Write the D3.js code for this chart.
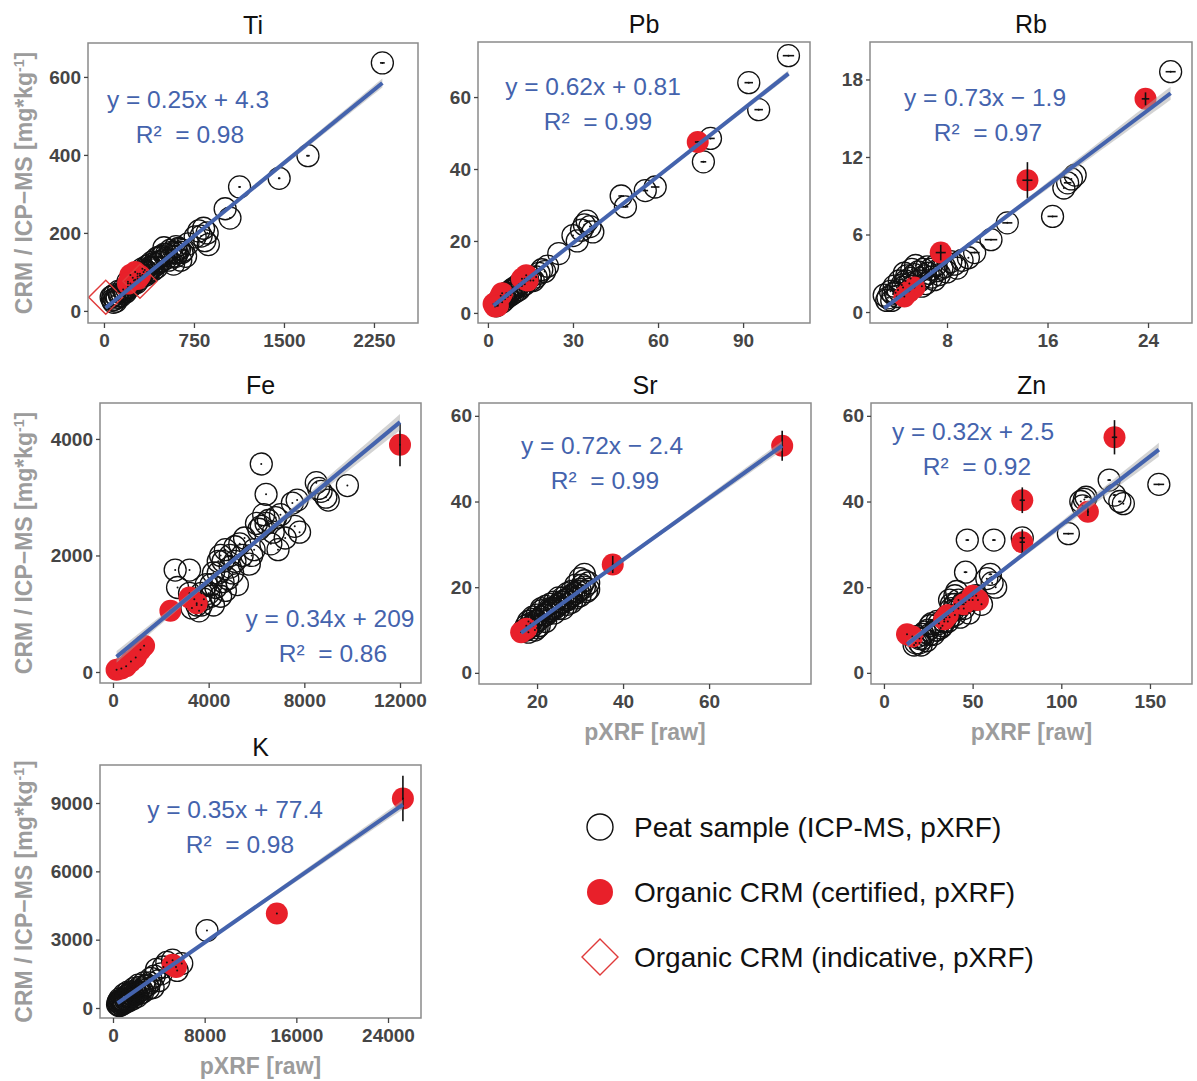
<!DOCTYPE html>
<html>
<head>
<meta charset="utf-8">
<script src="https://cdn.jsdelivr.net/npm/d3@7/dist/d3.min.js"></script>
<style>
  html, body { margin: 0; padding: 0; background: #fff; }
  svg { display: block; font-family: "Liberation Sans", Arial, sans-serif; }
</style>
</head>
<body>
<svg id="chart" width="1197" height="1081"></svg>
<script>
// ---------------- DATA ----------------
const elements = ["Ti", "Pb", "Rb", "Fe", "Sr", "Zn", "K"];
const slopes = [0.25, 0.62, 0.73, 0.34, 0.72, 0.32, 0.35];
const intercepts = [4.3, 0.81, -1.9, 209, -2.4, 2.5, 77.4];
const r2Values = [0.98, 0.99, 0.97, 0.86, 0.99, 0.92, 0.98];

const xTickValues = [[0, 750, 1500, 2250], [0, 30, 60, 90], [8, 16, 24], [0, 4000, 8000, 12000], [20, 40, 60], [0, 50, 100, 150], [0, 8000, 16000, 24000]];
const yTickValues = [[0, 200, 400, 600], [0, 20, 40, 60], [0, 6, 12, 18], [0, 2000, 4000], [0, 20, 40, 60], [0, 20, 40, 60], [0, 3000, 6000, 9000]];

const legendLabels = ["Peat sample (ICP-MS, pXRF)", "Organic CRM (certified, pXRF)", "Organic CRM (indicative, pXRF)"];

// points: [pXRF, CRM/ICP-MS, xErr, yErr]
const tiPeat = [[2320,636,20,0],[1700,398,15,0],[1460,340,10,0],[1130,318,10,0],[1010,262,0,0],[1050,238,0,0],[790,205],[830,212],[810,192],[860,200],[840,180],[870,170],[760,190],[700,172],[650,150],[620,160],[600,140],[560,150],[540,130],[500,162],[480,140],[460,125],[430,118],[410,105],[390,112],[370,98],[350,92],[330,100],[310,88],[290,80],[270,72],[250,78],[230,66],[210,60],[190,55],[170,50],[150,45],[130,40],[110,35],[90,30],[70,28],[60,35],[80,22],[640,130],[680,140],[580,120],[520,145],[440,135],[400,125],[360,115],[320,108],[280,95],[240,85],[200,75],[600,165],
  [120,50],[140,38],[160,55],[180,48],[200,62],[220,70],[240,68],[260,80],[280,88],[300,95],[320,92],[340,105],[360,100],[380,118],[400,110],[420,122],[440,112],[460,138],[480,128],[500,145],[520,135],[550,155],[570,140],[590,150],[610,148],[630,158],[660,155],[100,25],[75,38],[90,42]];
const tiCert = [[220,92],[260,100],[280,82],[300,90],[200,70]];
const tiIndic = [[15,35],[300,76]];

const pbPeat = [[106,71.5,2,0],[92,64,1.5,0],[95.5,56.5,1.5,0],[78.5,48.5,1.5,0],[76,42,1,0],[59,35,1.5,0],[55.5,34,1,0],[47,32.5,1,0],[48.5,29.5,1,0],[35,25.5,1,0],[34,24.5],[36,24],[33,23],[37,22.5],[30,21.5],[31.5,20],[25,16.5],[21,13],[18,11],[20,11.5],[15,10],[16,9],[11,8],[10,7],[9,6.5],[8,6],[7,5],[6,4.5],[5,4],[4,3],[3.5,2.5],[12,8.5],[13,9.5],[6.5,5.5],[4.5,3.5],
  [3,2],[4,3.5],[5,3],[5.5,4.5],[6,3.8],[7,4.5],[7.5,5.5],[8,5],[8.5,6.5],[9,5.5],[9.5,7],[10,6],[10.5,7.5],[11,6.5],[12,7.5],[13,8],[14,9.5],[15,9],[17,10],[19,12]];
const pbCert = [[74,47.5,1,0],[2,2.5],[2.5,1.8],[3,3],[4.5,4.8],[5,5.5],[12,9.5],[13.5,10.5],[14,9],[3.5,2]];
const pbIndic = [];

const rbPeat = [[25.8,18.6,0.4,0],[16.4,7.4,0.4,0],[17.3,9.6],[17.6,10.0,0.3,0],[17.9,10.3],[18.2,10.6],[12.8,6.9,0.4,0],[11.5,5.6,0.5,0],[10.2,4.6,0.4,0],[9.7,4.2],[9.2,4.0],[8.6,3.7],[8.8,3.4],[3.0,1.3],[3.2,0.9],[3.5,1.6],[3.8,2.0],[4.2,2.4],[4.5,1.9],[4.8,2.8],[5.2,3.3],[5.5,3.6],[5.8,2.4],[6.2,2.8],[6.5,3.0],[6.8,2.7],[7.2,3.2],[7.6,3.4],[8.0,3.1],[4.0,1.2],[5.0,2.2],[6.0,2.0],[7.0,2.5],[4.6,3.0],[3.6,0.9],
  [3.3,1.1],[3.7,1.4],[4.1,1.7],[4.4,2.1],[4.7,2.4],[5.1,2.6],[5.4,2.9],[5.7,3.1],[6.1,3.3],[6.4,3.5],[6.7,3.3],[7.1,3.6],[7.4,2.9],[7.8,3.5],[5.3,2.0],[5.9,2.6],[6.3,2.2],[4.9,1.6],[8.3,3.9],[3.9,1.5]];
const rbCert = [[23.8,16.5,0.3,0.5],[14.4,10.2,0.4,1.4],[7.5,4.6,0.4,0.6],[5.0,1.6],[5.4,1.9],[4.6,1.2]];
const rbIndic = [];

const fePeat = [[6200,3570],[6400,3050],[9800,3200],[8500,3250],[8700,3100],[8900,3000],[9000,2950],[8600,3150],[7500,2900],[7700,2950],[7600,2500],[7800,2400],[7200,2300],[6500,2600],[6300,2700],[6000,2550],[6100,2450],[6600,2200],[6900,2100],[5800,2000],[5700,1850],[5300,2200],[5100,2150],[4900,2000],[4700,2100],[4500,2000],[4600,1900],[4400,1700],[4800,1600],[5000,1700],[5200,1500],[4300,1450],[4500,1300],[4000,1350],[3800,1250],[3500,1150],[3600,1050],[3300,1100],[3200,1350],[2600,1750],[3200,1750],[2700,1450],[3900,1500],[4200,1150],[4700,1400],[6200,2500],[6700,2400],[7000,2700],[5500,2300],[5900,2100],[6400,2550],[6800,2650],
  [3400,1250],[3700,1350],[4100,1500],[4200,1700],[4400,1900],[4600,1550],[4900,1800],[5100,1900],[5400,2000],[3700,1150],[4100,1300]];
const feCert = [[12000,3900,0,370],[150,40],[350,60],[550,100],[750,180],[950,250],[1150,380],[1300,450],[2400,1050],[3200,1280],[3500,1180]];
const feIndic = [];

const srPeat = [[18,10.5],[19,11],[20,12],[21,13],[22,13.5],[23,14.5],[24,15],[25,16],[26,16.5],[27,17],[28,18],[29,18.5],[30,19.5],[31,20],[32,21],[31,23],[30,22],[21,14.5],[23,16],[25,17.5],[27,18.5],[22,12],[24,14],[26,15],[28,16.5],[19,12.5],[20,10.5],[18,9.5],[29,20.5],[31.5,19],[17.5,10],
  [17,10],[17.5,11],[18.5,11.5],[19.5,12],[20.5,12.5],[21.5,13.5],[22.5,14],[23.5,15],[24.5,15.5],[25.5,16.5],[26.5,17],[27.5,17.5],[28.5,18.5],[29.5,19],[30.5,20.5],[18,12],[19,13],[20,13.5],[21,15],[22,15.5],[23,15],[24,16.5],[25,15],[26,17.5],[27,16],[28,19],[29,17.5],[30,18],[31,21.5],[32,19.5],[19.5,10],[20.5,11]];
const srCert = [[77,53,0,3.5],[37.6,25.3,0,2],[16.3,9.5],[17.5,10.3]];
const srIndic = [];

const znPeat = [[155,44,3,0],[127,45,1,0],[130,41.5,1,0],[133,40,1,0],[135,39.5],[111,40],[113,40.5],[112,39],[114,41,1,0],[104,32.5,3,0],[47,31,1,0],[62,31,1,0],[46,23.5,1,0],[60,23,1,0],[61,21],[63,20],[78,31.5,1.5,0],[58,22],[40,18],[42,17],[38,16],[45,15],[48,14],[35,13],[30,12],[25,10],[22,9],[20,8],[18,7],[17,6.5],[24,7.5],[28,9],[32,10.5],[36,12],[40,13.5],[44,16],[50,17],[55,16],[52,18],[41,19],[38,15],[27,11.5],[33,11],[19,8.5],
  [20,7],[22,8],[23,9.5],[26,9],[29,10],[31,11.5],[34,12],[37,13],[39,14.5],[42,15],[43,13],[46,16.5],[48,17],[37,17],[40,16],[21,6.5],[26,11],[30,10]];
const znCert = [[130,55,1.5,4],[78,40.3,1.5,3],[78,30.5,1.5,3],[115,37.6,0.5,1],[13,9],[16,8.5],[34,12.5],[36,13.5],[50,18],[53,17],[45,16]];
const znIndic = [];

const kPeat = [[8200,3400],[4700,2000],[5200,2100],[6000,1950],[5600,1650],[4200,1500],[3800,1700],[4000,1200],[3200,1100],[3500,900],[2800,950],[2500,800],[2200,700],[2000,600],[1800,550],[1600,500],[1400,450],[1200,400],[1000,300],[800,250],[600,200],[500,150],[900,200],[1300,300],[1700,400],[2100,500],[2400,650],[3000,1000],[700,350],[1100,500],[1500,600],
  [400,150],[450,250],[550,100],[650,300],[750,150],[850,350],[950,250],[1050,400],[1150,300],[1250,550],[1350,400],[1450,650],[1550,450],[1650,700],[1750,550],[1900,750],[2050,650],[2300,900],[2600,700],[2700,1100],[3100,850],[600,400],[500,300],[1000,600],[1300,700],[1800,850],[2200,1000],[3300,1300],[3600,1400],[4400,1800]];
const kCert = [[25300,9200,0,1000],[14300,4150],[5500,1800],[5200,1900]];
const kIndic = [];

const peatData = [tiPeat, pbPeat, rbPeat, fePeat, srPeat, znPeat, kPeat];
const certData = [tiCert, pbCert, rbCert, feCert, srCert, znCert, kCert];
const indicData = [tiIndic, pbIndic, rbIndic, feIndic, srIndic, znIndic, kIndic];

// ---------------- LAYOUT ----------------
const frames = [
  {l: 88,  r: 418,  t: 43,  b: 323, xd: [-133, 2617],  yd: [-31, 687],   eq: [188, 108], r2: [190, 143], yLab: true,  xLab: false},
  {l: 478, r: 810,  t: 42,  b: 323, xd: [-3.5, 113.6], yd: [-2.8, 75.3], eq: [593, 95],  r2: [598, 130], yLab: false, xLab: false},
  {l: 870, r: 1192, t: 42,  b: 323, xd: [1.87, 27.5],  yd: [-0.85, 20.9],eq: [985, 106], r2: [988, 141], yLab: false, xLab: false},
  {l: 100, r: 421,  t: 403, b: 683, xd: [-543, 12878], yd: [-189, 4617], eq: [330, 627], r2: [333, 662], yLab: true,  xLab: false},
  {l: 479, r: 811,  t: 403, b: 684, xd: [6.5, 83.7],   yd: [-2.6, 63],   eq: [602, 454], r2: [605, 489], yLab: false, xLab: true},
  {l: 871, r: 1192, t: 403, b: 684, xd: [-7.3, 173.7], yd: [-2.6, 63],   eq: [973, 440], r2: [977, 475], yLab: false, xLab: true},
  {l: 100, r: 421,  t: 765, b: 1018,xd: [-1134, 26879],yd: [-439, 10669],eq: [235, 818], r2: [240, 853], yLab: true,  xLab: true}
];

const RED = "#e8202a";
const BLUE = "#4463ad";
const PT_R = 11;

const svg = d3.select("#chart");
svg.append("rect").attr("width", 1197).attr("height", 1081).attr("fill", "#fff");

function fmtIntercept(b) {
  return (b < 0 ? " \u2212 " : " + ") + Math.abs(b);
}

frames.forEach((f, i) => {
  const x = d3.scaleLinear().domain(f.xd).range([f.l, f.r]);
  const y = d3.scaleLinear().domain(f.yd).range([f.b, f.t]);
  const g = svg.append("g");
  const clipId = "clip" + i;
  svg.append("clipPath").attr("id", clipId).append("rect")
    .attr("x", f.l).attr("y", f.t).attr("width", f.r - f.l).attr("height", f.b - f.t);

  g.append("rect").attr("x", f.l).attr("y", f.t).attr("width", f.r - f.l).attr("height", f.b - f.t).attr("fill", "#fff");

  const plot = g.append("g").attr("clip-path", `url(#${clipId})`);
  const peat = peatData[i], cert = certData[i], indic = indicData[i];
  const all = peat.concat(cert, indic);

  // peat circles
  plot.selectAll("circle.peat").data(peat).join("circle")
    .attr("cx", d => x(d[0])).attr("cy", d => y(d[1])).attr("r", PT_R)
    .attr("fill", "none").attr("stroke", "#111").attr("stroke-width", 1.3);
  // certified CRM
  plot.selectAll("circle.cert").data(cert).join("circle")
    .attr("cx", d => x(d[0])).attr("cy", d => y(d[1])).attr("r", PT_R)
    .attr("fill", RED);
  // indicative CRM diamonds
  const ds = 17;
  plot.selectAll("path.indic").data(indic).join("path")
    .attr("d", d => {
      const cx = x(d[0]), cy = y(d[1]);
      return `M${cx},${cy - ds}L${cx + ds},${cy}L${cx},${cy + ds}L${cx - ds},${cy}Z`;
    })
    .attr("fill", "none").attr("stroke", "#e03a3a").attr("stroke-width", 1.4);

  // error bars + centre dot
  all.forEach(d => {
    const ex = d[2] || 0, ey = d[3] || 0;
    const cx = x(d[0]), cy = y(d[1]);
    plot.append("circle").attr("cx", cx).attr("cy", cy).attr("r", 1).attr("fill", "#111");
    if (ex > 0) plot.append("line").attr("x1", x(d[0] - ex)).attr("x2", x(d[0] + ex)).attr("y1", cy).attr("y2", cy)
      .attr("stroke", "#111").attr("stroke-width", 1.6);
    if (ey > 0) plot.append("line").attr("x1", cx).attr("x2", cx).attr("y1", y(d[1] - ey)).attr("y2", y(d[1] + ey))
      .attr("stroke", "#111").attr("stroke-width", 1.6);
  });

  // regression line with (narrow) confidence band
  const a = slopes[i], b = intercepts[i];
  const xs = all.map(d => d[0]);
  const n = xs.length, xbar = d3.mean(xs);
  const sxx = d3.sum(xs, v => (v - xbar) ** 2);
  const s = Math.sqrt(d3.sum(all, d => (d[1] - (a * d[0] + b)) ** 2) / (n - 2));
  const [x0, x1] = d3.extent(xs);
  const grid = d3.range(0, 51).map(k => x0 + (x1 - x0) * k / 50);
  const band = grid.map(v => {
    const h = 1.2 * s * Math.sqrt(1 / n + (v - xbar) ** 2 / sxx);
    return [v, a * v + b - h, a * v + b + h];
  });
  plot.append("path").datum(band)
    .attr("d", d3.area().x(d => x(d[0])).y0(d => y(d[1])).y1(d => y(d[2])))
    .attr("fill", "#a8a8a8").attr("opacity", 0.5);
  plot.append("path").datum([x0, x1])
    .attr("d", d3.line().x(v => x(v)).y(v => y(a * v + b)))
    .attr("stroke", BLUE).attr("stroke-width", 4).attr("fill", "none");

  // border
  g.append("rect").attr("x", f.l).attr("y", f.t).attr("width", f.r - f.l).attr("height", f.b - f.t)
    .attr("fill", "none").attr("stroke", "#8a8a8a").attr("stroke-width", 1.5);

  // axes
  const xAxis = g.append("g").attr("transform", `translate(0,${f.b})`)
    .call(d3.axisBottom(x).tickValues(xTickValues[i]).tickSize(5).tickPadding(6).tickFormat(d3.format("d")));
  const yAxis = g.append("g").attr("transform", `translate(${f.l},0)`)
    .call(d3.axisLeft(y).tickValues(yTickValues[i]).tickSize(4).tickPadding(3).tickFormat(d3.format("d")));
  [xAxis, yAxis].forEach(ax => {
    ax.select(".domain").remove();
    ax.selectAll(".tick line").attr("stroke", "#444").attr("stroke-width", 1.3);
    ax.selectAll(".tick text").attr("fill", "#454545").attr("font-size", 19).attr("font-weight", "bold")
      .attr("font-family", "Liberation Sans, Arial, sans-serif");
  });

  // title
  g.append("text").attr("x", (f.l + f.r) / 2).attr("y", f.t - 9).attr("text-anchor", "middle")
    .attr("font-size", 25).attr("fill", "#111").text(elements[i]);

  // equation labels
  g.append("text").attr("x", f.eq[0]).attr("y", f.eq[1]).attr("text-anchor", "middle")
    .attr("font-size", 24.5).attr("fill", BLUE).text(`y = ${a}x${fmtIntercept(b)}`);
  g.append("text").attr("x", f.r2[0]).attr("y", f.r2[1]).attr("text-anchor", "middle")
    .attr("font-size", 24.5).attr("fill", BLUE).text(`R\u00B2 \u00A0= ${r2Values[i].toFixed(2)}`);

  if (f.yLab) {
    const cy = (f.t + f.b) / 2;
    const t = g.append("text").attr("transform", `translate(32,${cy}) rotate(-90)`).attr("text-anchor", "middle")
      .attr("font-size", 23).attr("font-weight", "bold").attr("fill", "#9c9c9c");
    t.append("tspan").text("CRM / ICP\u2212MS [mg*kg");
    t.append("tspan").attr("font-size", 14).attr("dy", -8).text("-1");
    t.append("tspan").attr("dy", 8).text("]");
  }
  if (f.xLab) {
    g.append("text").attr("x", (f.l + f.r) / 2).attr("y", f.b + 56).attr("text-anchor", "middle")
      .attr("font-size", 23).attr("font-weight", "bold").attr("fill", "#9c9c9c").text("pXRF [raw]");
  }
});

// ---------------- LEGEND ----------------
const leg = svg.append("g");
const legY = [827, 892, 957];
leg.append("circle").attr("cx", 600).attr("cy", legY[0]).attr("r", 13).attr("fill", "none").attr("stroke", "#111").attr("stroke-width", 1.4);
leg.append("circle").attr("cx", 600).attr("cy", legY[1]).attr("r", 13).attr("fill", RED);
leg.append("path").attr("d", `M600,${legY[2] - 18}L618,${legY[2]}L600,${legY[2] + 18}L582,${legY[2]}Z`)
  .attr("fill", "none").attr("stroke", "#e03a3a").attr("stroke-width", 1.4);
leg.selectAll("text").data(legendLabels).join("text")
  .attr("x", 634).attr("y", (d, k) => legY[k] + 10).attr("font-size", 28).attr("fill", "#111").text(d => d);
</script>
</body>
</html>
